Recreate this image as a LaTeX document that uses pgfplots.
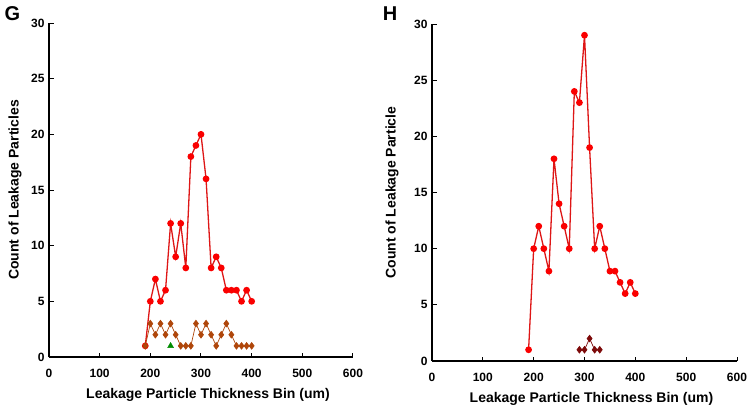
\documentclass[border=0pt]{standalone}
\usepackage{fontspec}
\setmainfont{Liberation Sans}
\usepackage{pgfplots}
\pgfplotsset{compat=1.18}

\definecolor{rline}{RGB}{222,22,22}
\definecolor{rmark}{RGB}{250,0,0}
\definecolor{brownc}{RGB}{175,70,10}
\definecolor{darkredc}{RGB}{125,10,10}
\definecolor{greenc}{RGB}{0,140,0}

\pgfplotsset{panel/.style={
  scale only axis, width=304pt, height=334pt,
  xmin=0, xmax=600, ymin=0, ymax=30,
  axis x line=bottom, axis y line=left,
  axis line style={-, line width=1.3pt},
  tick align=inside, major tick length=4.5pt,
  tick style={line width=1pt, black},
  xtick={0,100,...,600}, ytick={0,5,...,30},
  ticklabel style={font=\bfseries\fontsize{12}{14}\selectfont},
  xticklabel style={yshift=-9pt},
  yticklabel style={xshift=-1pt},
  /pgf/number format/assume math mode=true,
  label style={font=\bfseries\fontsize{14}{16}\selectfont},
  xlabel={Leakage Particle Thickness Bin (um)},
  xlabel style={at={(axis description cs:0.5,0)}, anchor=center, yshift=-38pt, xshift=7pt},
  clip=false,
}}

\begin{document}
\begin{tikzpicture}
\useasboundingbox (0,0) rectangle (753pt,408pt);

\node[font=\bfseries\fontsize{20}{22}\selectfont] at (12.5pt,394pt) {G};
\node[font=\bfseries\fontsize{20}{22}\selectfont] at (390pt,394pt) {H};

\begin{axis}[panel, at={(49pt,51pt)}, anchor=south west,
  ylabel={Count of Leakage Particles},
  ylabel style={at={(axis description cs:0,0.5)}, anchor=center, yshift=34pt}]
\addplot[color=rline, line width=1.3pt, mark=*, mark size=2.7pt, mark options={fill=rmark, draw=rmark}] coordinates {
(190,1)(200,5)(210,7)(220,5)(230,6)(240,12)(250,9)(260,12)(270,8)(280,18)(290,19)(300,20)(310,16)(320,8)(330,9)(340,8)(350,6)(360,6)(370,6)(380,5)(390,6)(400,5)};
\addplot[color=brownc, line width=0.7pt, mark=diamond*, mark size=3.3pt, mark options={fill=brownc, draw=brownc}] coordinates {
(190,1)(200,3)(210,2)(220,3)(230,2)(240,3)(250,2)(260,1)(270,1)(280,1)(290,3)(300,2)(310,3)(320,2)(330,1)(340,2)(350,3)(360,2)(370,1)(380,1)(390,1)(400,1)};
\addplot[only marks, mark=triangle*, mark size=3.4pt, mark options={fill=greenc, draw=greenc}] coordinates {(240,1)};
\end{axis}

\begin{axis}[panel, at={(432pt,47pt)}, anchor=south west, width=305pt, height=337pt,
  ylabel={Count of Leakage Particle},
  ylabel style={at={(axis description cs:0,0.5)}, anchor=center, yshift=40pt}]
\addplot[color=rline, line width=1.3pt, mark=*, mark size=2.7pt, mark options={fill=rmark, draw=rmark}] coordinates {
(190,1)(200,10)(210,12)(220,10)(230,8)(240,18)(250,14)(260,12)(270,10)(280,24)(290,23)(300,29)(310,19)(320,10)(330,12)(340,10)(350,8)(360,8)(370,7)(380,6)(390,7)(400,6)};
\addplot[color=darkredc, line width=0.7pt, mark=diamond*, mark size=3.3pt, mark options={fill=darkredc, draw=darkredc}] coordinates {
(290,1)(300,1)(310,2)(320,1)(330,1)};
\end{axis}
\end{tikzpicture}
\end{document}
